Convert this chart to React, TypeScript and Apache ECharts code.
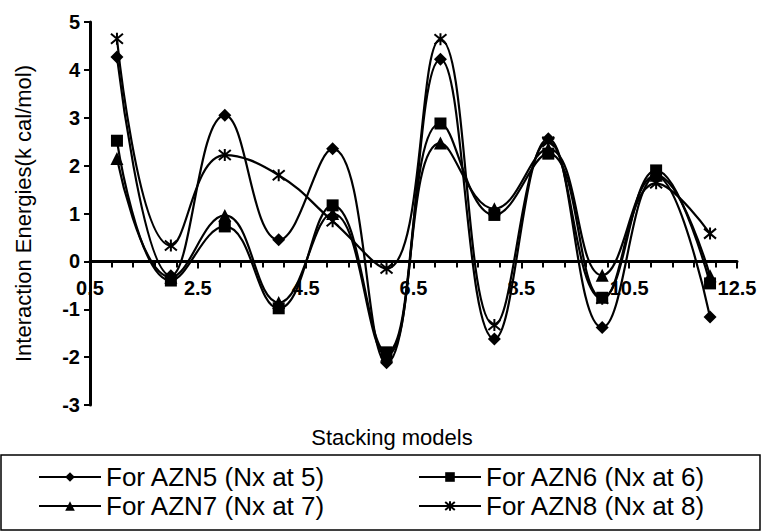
import React, { useEffect, useRef } from "react";
import * as echarts from "echarts";

const xValues = [1, 2, 3, 4, 5, 6, 7, 8, 9, 10, 11, 12];
const azn5 = [4.27, -0.3, 3.05, 0.45, 2.35, -2.12, 4.22, -1.62, 2.56, -1.38, 1.78, -1.16];
const azn6 = [2.52, -0.4, 0.73, -0.98, 1.17, -1.9, 2.88, 0.97, 2.25, -0.76, 1.9, -0.46];
const azn7 = [2.15, -0.33, 0.96, -0.86, 1.0, -1.96, 2.47, 1.1, 2.35, -0.29, 1.8, -0.3];
const azn8 = [4.65, 0.33, 2.22, 1.8, 0.84, -0.15, 4.64, -1.33, 2.5, -0.78, 1.63, 0.58];

const seriesNames = [
  "For AZN5 (Nx at 5)",
  "For AZN6 (Nx at 6)",
  "For AZN7 (Nx at 7)",
  "For AZN8 (Nx at 8)",
];

const FONT = "Arial, 'Liberation Sans', Helvetica, sans-serif";
const STAR = "path://M0,0L10,10M10,0L0,10M5,-1L5,11";

const Y_MIN = -3;
const Y_MAX = 5;
const GRID_TOP = 22;
const GRID_BOTTOM_Y = 405;

export default function App() {
  const ref = useRef<HTMLDivElement>(null);
  useEffect(() => {
    if (!ref.current) return;
    const chart = echarts.init(ref.current, null, { renderer: "svg" });
    const pair = (ys: number[]) => xValues.map((x, i) => [x, ys[i]]);
    const mk = (name: string, ys: number[], symbol: string, size: number, star = false) => ({
      name,
      type: "line",
      smooth: 0.45,
      data: pair(ys),
      symbol,
      symbolSize: size,
      showAllSymbol: true,
      lineStyle: { color: "#000", width: 2.2 },
      itemStyle: star
        ? { color: "#000", borderColor: "#000", borderWidth: 2 }
        : { color: "#000", borderColor: "#000", borderWidth: 0 },
      z: 3,
    });
    const legendCommon = {
      orient: "horizontal",
      itemWidth: 62,
      itemHeight: 12,
      textStyle: { fontSize: 26, color: "#000", fontFamily: FONT },
      selectedMode: false,
      padding: 0,
    };
    // distance from the bottom of the grid to the zero line, so the x axis sits on y = 0
    const zeroOffset = -((0 - Y_MIN) / (Y_MAX - Y_MIN)) * (GRID_BOTTOM_Y - GRID_TOP);
    chart.setOption({
      animation: false,
      backgroundColor: "#fff",
      grid: { left: 90, right: 25, top: GRID_TOP, bottom: 531 - GRID_BOTTOM_Y },
      xAxis: {
        type: "value",
        min: 0.5,
        max: 12.5,
        interval: 2,
        position: "bottom",
        offset: zeroOffset,
        axisLine: { onZero: false, lineStyle: { color: "#000", width: 3 } },
        axisTick: { show: true, length: 7, lineStyle: { color: "#000", width: 2 } },
        minorTick: { show: true, splitNumber: 5, length: 6, lineStyle: { color: "#000", width: 2 } },
        splitLine: { show: false },
        axisLabel: {
          fontSize: 20,
          fontWeight: "bold",
          color: "#000",
          fontFamily: FONT,
          margin: 17,
          formatter: (v: number) => v.toFixed(1),
        },
      },
      yAxis: {
        type: "value",
        min: Y_MIN,
        max: Y_MAX,
        interval: 1,
        name: "Interaction Energies(k cal/mol)",
        nameLocation: "middle",
        nameRotate: 90,
        nameGap: 56,
        nameTextStyle: { fontSize: 22, color: "#000", fontFamily: FONT },
        axisLine: { show: true, onZero: false, lineStyle: { color: "#000", width: 3 } },
        axisTick: { show: true, length: 6, lineStyle: { color: "#000", width: 2 } },
        splitLine: { show: false },
        axisLabel: { fontSize: 20, fontWeight: "bold", color: "#000", fontFamily: FONT, margin: 10 },
      },
      legend: [
        { ...legendCommon, data: [seriesNames[0]], left: 38, top: 464 },
        { ...legendCommon, data: [seriesNames[1]], left: 418, top: 464 },
        { ...legendCommon, data: [seriesNames[2]], left: 38, top: 493 },
        { ...legendCommon, data: [seriesNames[3]], left: 418, top: 493 },
      ],
      graphic: [
        {
          type: "rect",
          shape: { x: 1, y: 455, width: 759, height: 75 },
          style: { fill: "none", stroke: "#000", lineWidth: 1.5 },
          silent: true,
        },
        {
          type: "text",
          x: 392,
          y: 437,
          style: {
            text: "Stacking models",
            fontSize: 22,
            fontFamily: FONT,
            fill: "#000",
            textAlign: "center",
            textVerticalAlign: "middle",
          },
        },
      ],
      series: [
        mk(seriesNames[0], azn5, "diamond", 13),
        mk(seriesNames[1], azn6, "rect", 12),
        mk(seriesNames[2], azn7, "triangle", 13),
        mk(seriesNames[3], azn8, STAR, 12, true),
      ],
    });
    return () => chart.dispose();
  }, []);
  return <div ref={ref} style={{ width: 762, height: 531, position: "absolute", left: 0, top: 0 }} />;
}
